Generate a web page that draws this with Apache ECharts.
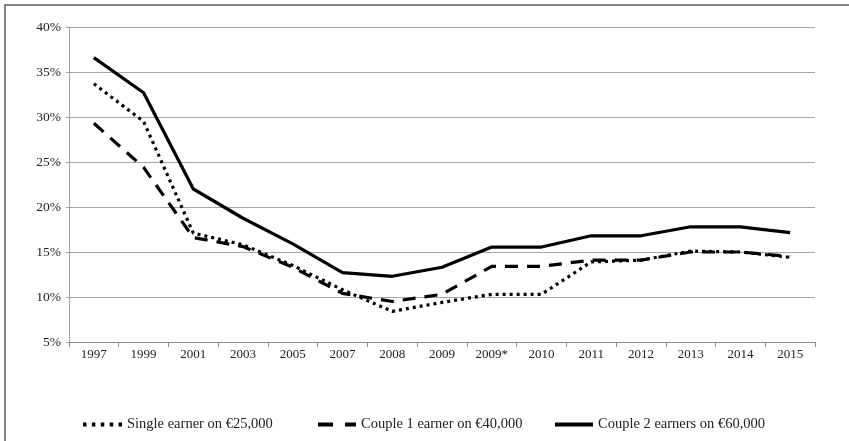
<!DOCTYPE html>
<html>
<head>
<meta charset="utf-8">
<script src="https://cdn.jsdelivr.net/npm/echarts@6/dist/echarts.min.js"></script>
<style>
  html, body { margin: 0; padding: 0; background: #fff; }
  #chart { width: 849px; height: 441px; }
</style>
</head>
<body>
<div id="chart"></div>
<script>
// Average tax rate by household type, 1997–2015
const years = ['1997', '1999', '2001', '2003', '2005', '2007', '2008', '2009', '2009*', '2010', '2011', '2012', '2013', '2014', '2015'];
const singleEarner25k = [33.7, 29.5, 17.1, 15.8, 13.5, 10.8, 8.4, 9.4, 10.3, 10.3, 13.9, 14.1, 15.1, 15.0, 14.4];
const couple1Earner40k = [29.3, 24.4, 16.6, 15.6, 13.3, 10.4, 9.5, 10.3, 13.4, 13.4, 14.1, 14.1, 15.0, 15.0, 14.5];
const couple2Earners60k = [36.6, 32.7, 22.0, 18.75, 15.9, 12.7, 12.3, 13.3, 15.55, 15.55, 16.8, 16.8, 17.8, 17.8, 17.15];
const seriesNames = ['Single earner on €25,000', 'Couple 1 earner on €40,000', 'Couple 2 earners on €60,000'];
const yTicks = { min: 5, max: 40, step: 5 };

const serif = '"Liberation Serif", "Times New Roman", serif';
const legendText = { fontFamily: serif, fontSize: 14.5, color: '#222' };

// Legend swatches drawn as paths: five dots, two dashes, one solid bar
const dotIcon = 'path://M0,0h3.5v4h-3.5z M8.9,0h3.5v4h-3.5z M17.8,0h3.5v4h-3.5z M26.7,0h3.5v4h-3.5z M35.5,0h3.5v4h-3.5z';
const dashIcon = 'path://M0,0h15v4h-15z M27,0h11v4h-11z';
const solidIcon = 'path://M0,0h38v4h-38z';

function legendItem(name, icon, left, width) {
  return {
    data: [{ name: name, icon: icon }],
    left: left,
    top: 417,
    itemWidth: width,
    itemHeight: 4,
    padding: 0,
    textStyle: legendText,
    selectedMode: false
  };
}

const chart = echarts.init(document.getElementById('chart'), null, { renderer: 'canvas' });

chart.setOption({
  backgroundColor: '#fff',
  animation: false,
  graphic: [{
    type: 'rect',
    shape: { x: 5, y: 5, width: 900, height: 500 },
    style: { fill: 'none', stroke: '#5a5a5a', lineWidth: 1.5 },
    silent: true,
    z: -1
  }],
  grid: { left: 69, right: 34, top: 27, bottom: 99, containLabel: false },
  legend: [
    legendItem(seriesNames[0], dotIcon, 83, 39),
    legendItem(seriesNames[1], dashIcon, 318, 38),
    legendItem(seriesNames[2], solidIcon, 555, 38)
  ],
  xAxis: {
    type: 'category',
    data: years,
    boundaryGap: true,
    axisLine: { lineStyle: { color: '#8c8c8c', width: 1 } },
    axisTick: { show: true, length: 5, lineStyle: { color: '#8c8c8c' } },
    axisLabel: { fontFamily: serif, fontSize: 13, color: '#222', margin: 6 },
    splitLine: { show: false }
  },
  yAxis: {
    type: 'value',
    min: yTicks.min,
    max: yTicks.max,
    interval: yTicks.step,
    axisLine: { show: true, lineStyle: { color: '#a0a0a0', width: 1 } },
    axisTick: { show: true, length: 3, lineStyle: { color: '#a0a0a0' } },
    axisLabel: { fontFamily: serif, fontSize: 13.5, color: '#222', margin: 8, formatter: '{value}%' },
    splitLine: { show: true, lineStyle: { color: '#a6a6a6', width: 1 } }
  },
  series: [
    {
      name: seriesNames[0],
      type: 'line',
      data: singleEarner25k,
      symbol: 'none',
      color: '#000',
      lineStyle: { color: '#000', width: 3.2, type: [3, 4] }
    },
    {
      name: seriesNames[1],
      type: 'line',
      data: couple1Earner40k,
      symbol: 'none',
      color: '#000',
      lineStyle: { color: '#000', width: 3.2, type: [13, 9] }
    },
    {
      name: seriesNames[2],
      type: 'line',
      data: couple2Earners60k,
      symbol: 'none',
      color: '#000',
      lineStyle: { color: '#000', width: 3.2, type: 'solid' }
    }
  ]
});
</script>
</body>
</html>
